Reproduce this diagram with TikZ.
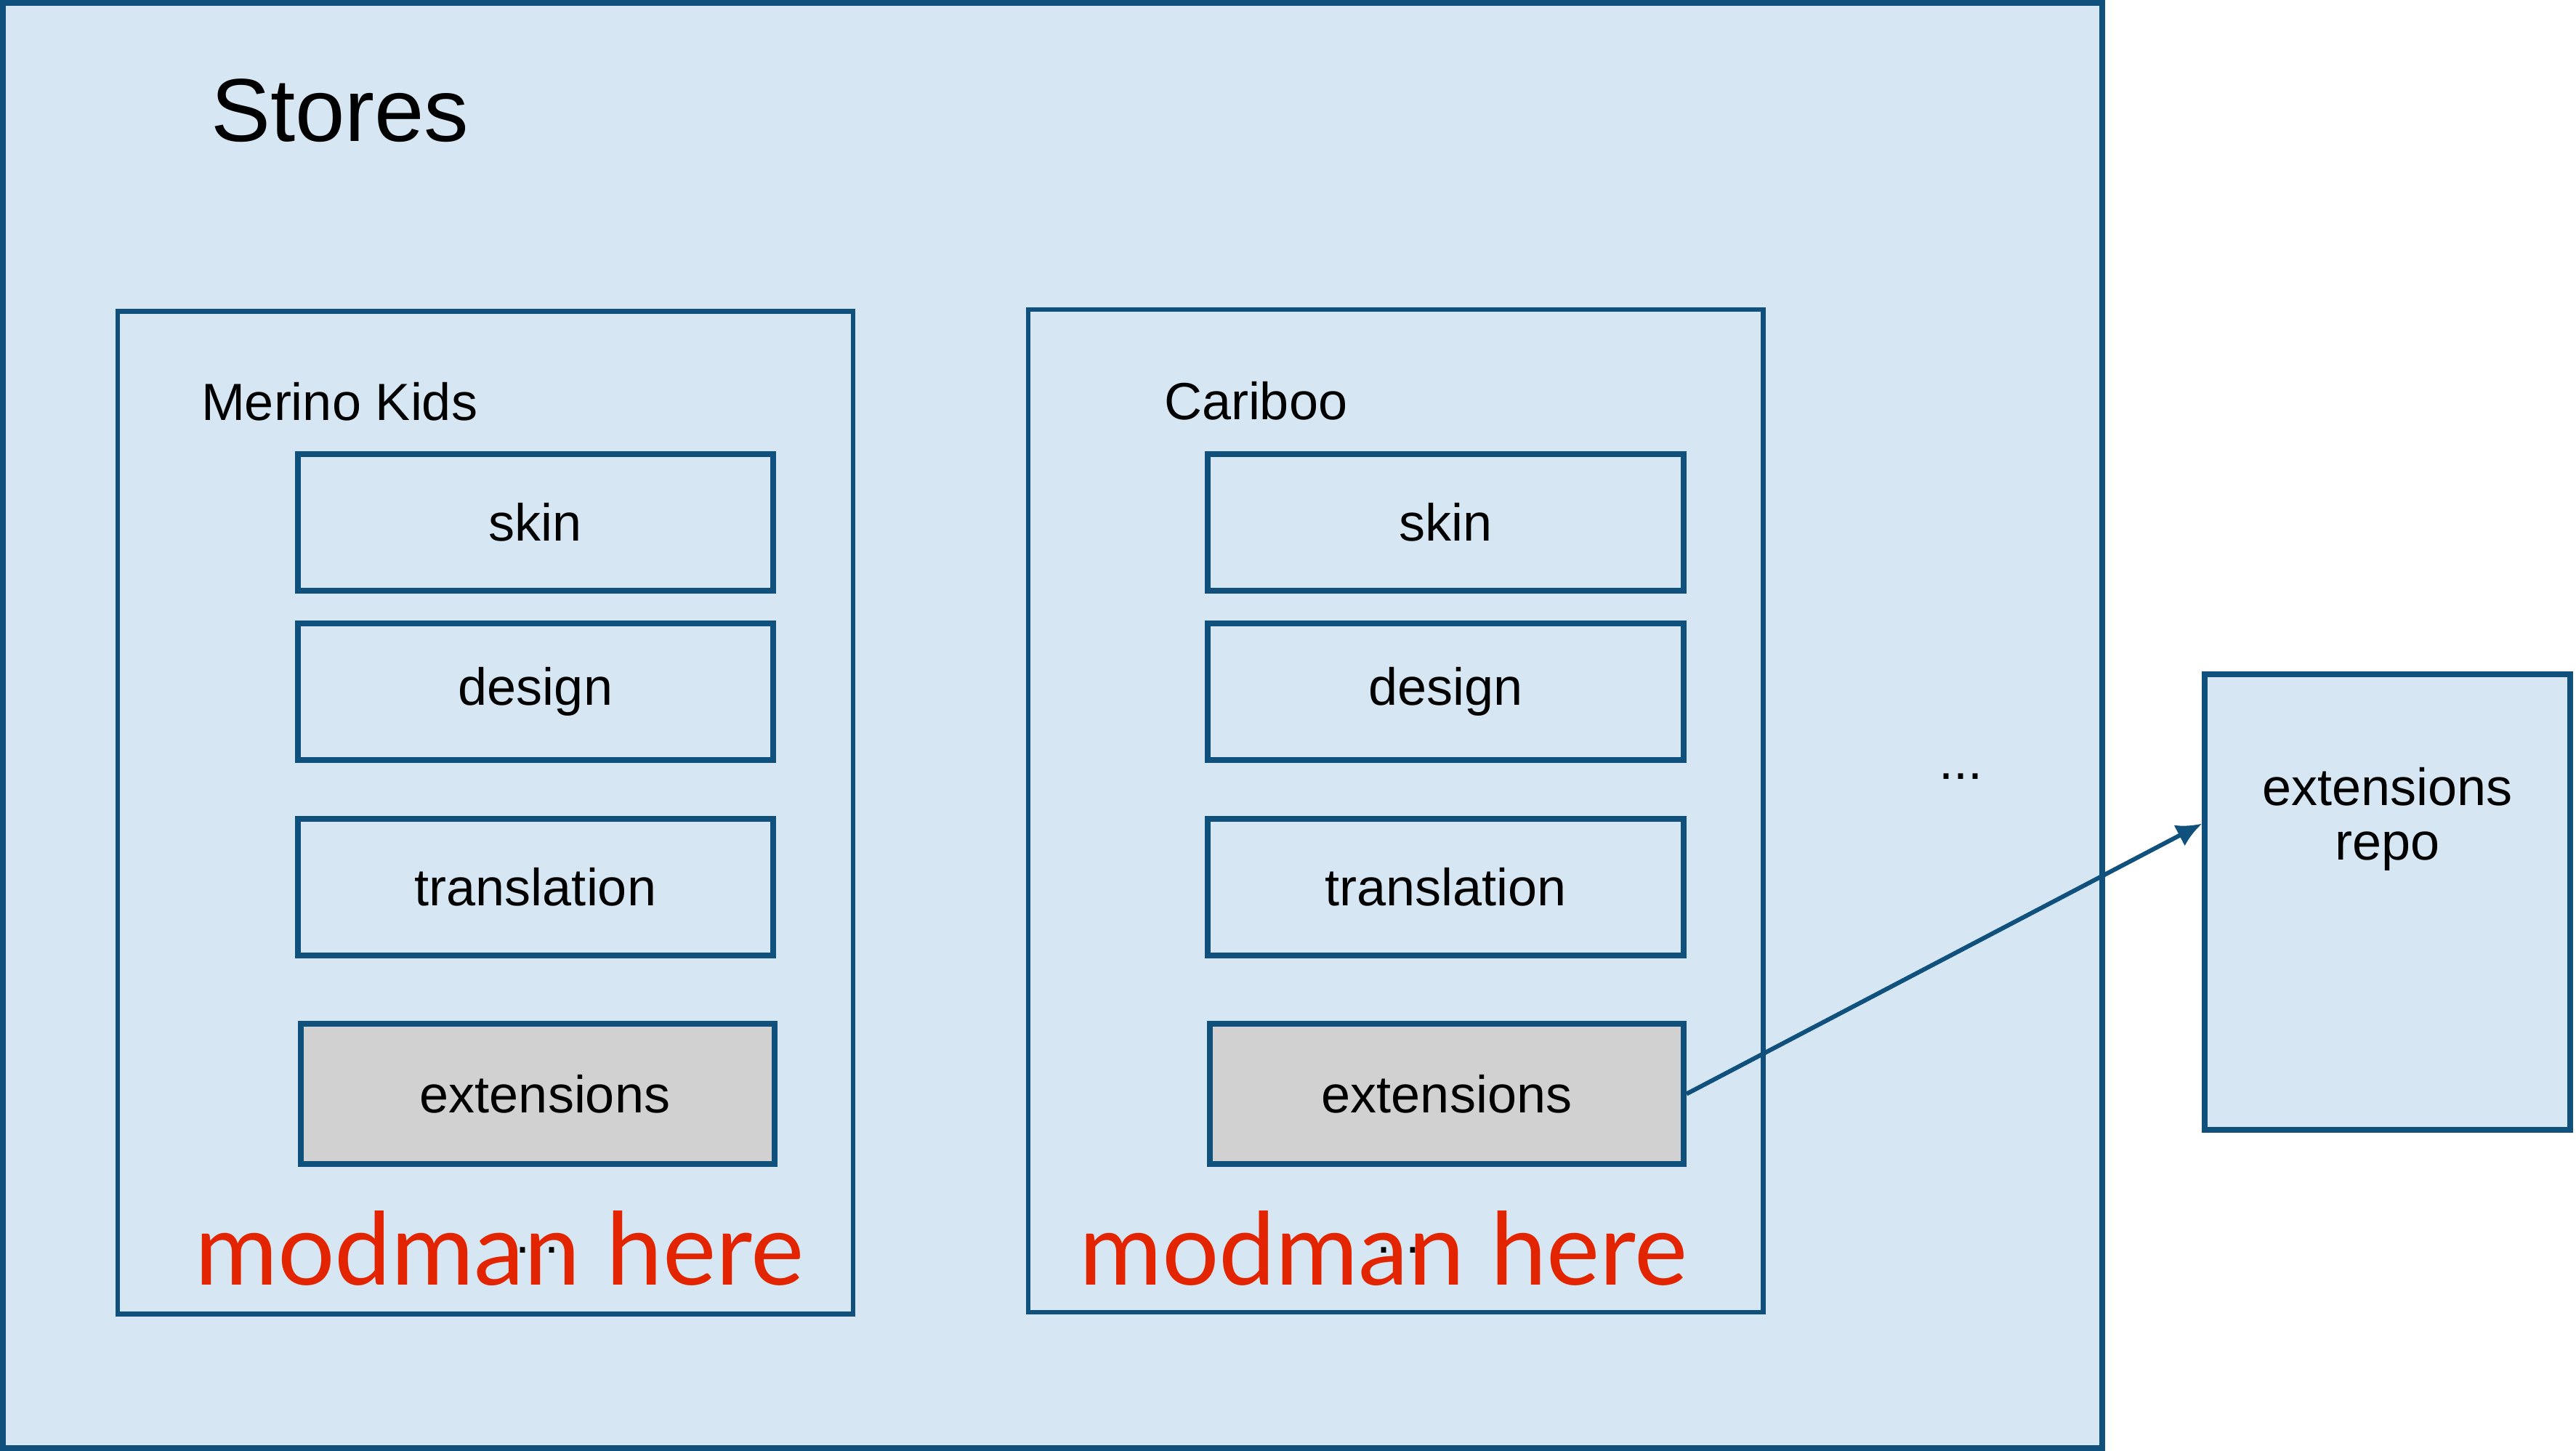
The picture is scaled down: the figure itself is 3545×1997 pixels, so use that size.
\documentclass[tikz,border=0pt]{standalone}
\usepackage{fontspec}
\setmainfont{Liberation Sans}
\newfontfamily\modfont{Lato}
\usetikzlibrary{arrows.meta,calc}
\definecolor{boxfill}{RGB}{214,230,242}
\definecolor{boxline}{RGB}{16,80,125}
\definecolor{extfill}{RGB}{209,209,209}
\definecolor{modred}{RGB}{226,37,0}
\begin{document}
\begin{tikzpicture}[x=0.2pt,y=-0.2pt,
  frame/.style={draw=boxline,fill=boxfill,inner sep=0pt,line width=1.5pt},
  storebox/.style={draw=boxline,fill=boxfill,inner sep=0pt,line width=1.3pt,minimum width=202.3pt,minimum height=276pt},
  part/.style={draw=boxline,fill=boxfill,inner sep=0pt,line width=1.6pt,minimum height=37.6pt,font=\fontsize{14.4pt}{17pt}\selectfont},
  extpart/.style={part,fill=extfill,minimum height=38.6pt},
  lbl/.style={inner sep=0pt,font=\fontsize{14.4pt}{17pt}\selectfont},
  modlbl/.style={inner sep=0pt,text=modred,anchor=base west},
  conn/.style={draw=boxline,line width=1.2pt,-{Latex[length=7pt,width=6.5pt]}}
]
\useasboundingbox (0,0) rectangle (3545,1997);
% outer frame
\node[frame,minimum width=577.8pt,minimum height=397.8pt] (stores) at (1448.5,998.5) {};
\node[inner sep=0pt,anchor=base west,font=\fontsize{24.6pt}{29pt}\selectfont] (storestitle) at (289,195) {Stores};
% store boxes
\node[storebox] (merino) at (668,1118.5) {};
\node[storebox] (cariboo) at (1920.5,1116) {};
\node[lbl,anchor=base west] (merinotitle) at (276,579) {Merino Kids};
\node[lbl,anchor=base west] (caribootitle) at (1601,578) {Cariboo};
% Merino parts
\node[part,minimum width=130.8pt] (mskin) at (737,719) {skin};
\node[part,minimum width=130.8pt] (mdesign) at (737,952) {design};
\node[part,minimum width=130.8pt] (mtrans) at (737,1221) {translation};
\node[extpart,minimum width=130.4pt] (mext) at (740,1505.5) {\hspace*{18pt}extensions\hspace*{14pt}};
% Cariboo parts
\node[part,minimum width=131pt] (cskin) at (1989.5,719) {skin};
\node[part,minimum width=131pt] (cdesign) at (1989.5,952) {design};
\node[part,minimum width=131pt] (ctrans) at (1989.5,1221) {translation};
\node[extpart,minimum width=130.4pt] (cext) at (1991,1505.5) {extensions};
% ellipses
\node[lbl,anchor=base] (moredots) at (2698,1072) {...};
\node[lbl,anchor=base] (mdots) at (739,1724) {...};
\node[lbl,anchor=base] (cdots) at (1924,1724) {...};
% modman labels
\node[modlbl] (mmod) at (267,1768) {\resizebox{167.6pt}{20.4pt}{\modfont modman here}};
\node[modlbl] (cmod) at (1484,1768) {\resizebox{167.4pt}{20.4pt}{\modfont modman here}};
% repo
\node[frame,minimum width=100.6pt,minimum height=125.4pt] (repo) at (3285.5,1241.5) {};
\node[lbl,align=center,anchor=base] (repotxt) at (3285.5,1183) {extensions\\[-2pt]repo};
% connector
\coordinate (repoin) at ($(repo.north west)!0.33!(repo.south west)$);
\draw[conn] (cext.east) -- (repoin);
\end{tikzpicture}
\end{document}
